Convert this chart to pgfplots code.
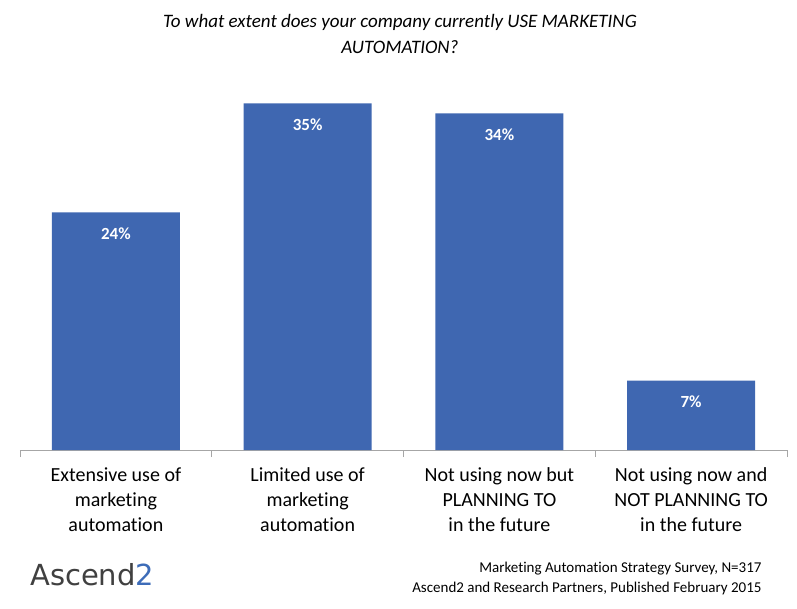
\documentclass[border=0pt]{standalone}
\usepackage{pgfplots}
\pgfplotsset{compat=1.18}
\usepackage{fontspec}
\setmainfont{Carlito}[Ligatures={NoCommon}]
\newfontfamily\logofont{DejaVu Sans}
\definecolor{barblue}{HTML}{3F67B1}
\definecolor{axisgray}{HTML}{A6A6A6}
\definecolor{logogray}{HTML}{404040}
\definecolor{logoblue}{HTML}{3D6CB8}

\begin{document}
\begin{tikzpicture}[x=1pt,y=1pt]
\useasboundingbox (0,0) rectangle (797,608);

\begin{axis}[
    at={(20pt,158pt)}, anchor=south west,
    scale only axis, width=767pt, height=396pt,
    xmin=-0.5, xmax=3.5, ymin=0, ymax=40,
    axis x line=bottom, axis y line=none,
    axis line style={-, axisgray, line width=0.8pt},
    ybar, bar width=128pt,
    xtick={0,1,2,3},
    xticklabels={{Extensive use of\\marketing\\automation},
                 {Limited use of\\marketing\\automation},
                 {Not using now but\\PLANNING TO\\in the future},
                 {Not using now and\\NOT PLANNING TO\\in the future}},
    major x tick style={draw=none},
    minor xtick={-0.5,0.5,1.5,2.5,3.5},
    minor tick length=7pt,
    tick align=outside,
    minor x tick style={axisgray, line width=0.8pt},
    xticklabel style={align=center, font=\fontsize{20}{25}\selectfont, text=black, yshift=-10pt},
    nodes near coords={\pgfmathprintnumber[assume math mode=true]{\pgfplotspointmeta}\%},
    every node near coord/.append style={anchor=center, yshift=-21pt, text=white,
        font=\fontsize{17}{20}\selectfont\bfseries},
]
\addplot[fill=barblue, draw=none] coordinates {(0,24) (1,35) (2,34) (3,7)};
\end{axis}

% title
\node[align=center, font=\fontsize{19}{26}\selectfont\itshape] at (400,574)
  {To what extent does your company currently USE MARKETING\\AUTOMATION?};

% source
\node[align=right, anchor=east, font=\fontsize{15}{20}\selectfont] at (765,30)
  {Marketing Automation Strategy Survey, N=317\\Ascend2 and Research Partners, Published February 2015};

% logo
\node[anchor=base west, inner sep=0pt] at (30,23)
  {\logofont\fontsize{29}{29}\selectfont\textcolor{logogray}{Ascend}\textcolor{logoblue}{2}};
\end{tikzpicture}
\end{document}
